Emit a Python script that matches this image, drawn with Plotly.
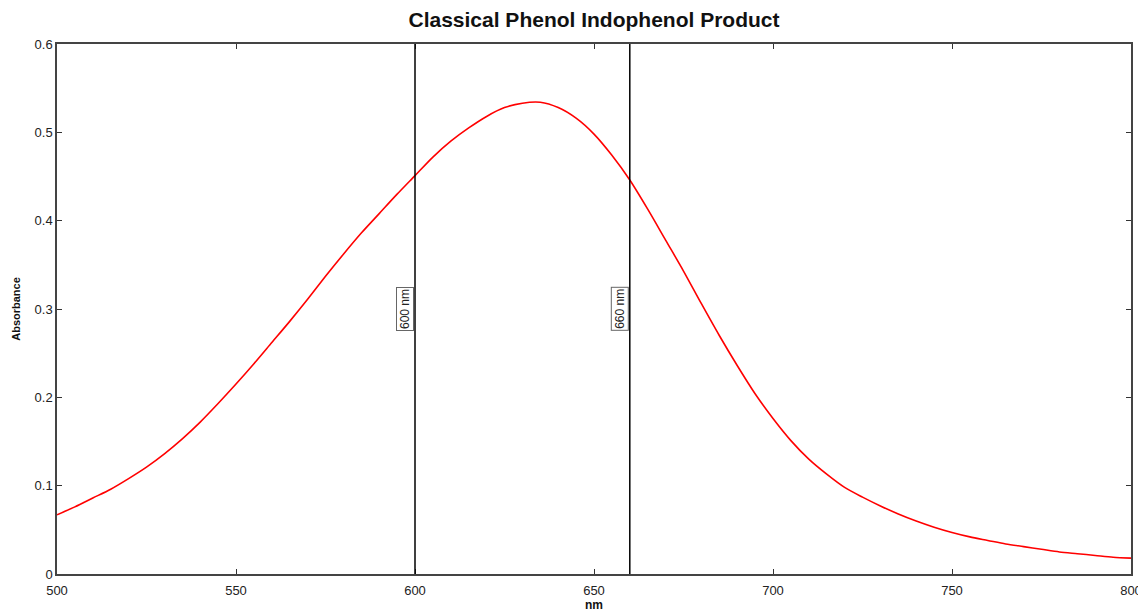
import plotly.graph_objects as go

wavelength_nm = list(range(500, 801, 5))
absorbance = [
    0.067, 0.076, 0.086, 0.096, 0.108, 0.121, 0.136, 0.153, 0.172, 0.193,
    0.215, 0.238, 0.262, 0.286, 0.311, 0.337, 0.362, 0.386, 0.408, 0.430,
    0.451, 0.472, 0.490, 0.505, 0.518, 0.528, 0.533, 0.534, 0.528, 0.516,
    0.498, 0.474, 0.446, 0.413, 0.378, 0.343, 0.306, 0.270, 0.236, 0.204,
    0.176, 0.151, 0.130, 0.113, 0.098, 0.087, 0.077, 0.068, 0.060, 0.053,
    0.047, 0.042, 0.038, 0.034, 0.031, 0.028, 0.025, 0.023, 0.021, 0.019,
    0.018,
]
marker_lines_nm = [600, 660]
marker_labels = ["600 nm", "660 nm"]
x_ticks = [500, 550, 600, 650, 700, 750, 800]
y_ticks = [0, 0.1, 0.2, 0.3, 0.4, 0.5, 0.6]

# page body has an 8px default margin; size the figure so it fits the 1146x615 window
W, H = 1138, 607

fig = go.Figure()
fig.add_trace(go.Scatter(
    x=wavelength_nm, y=absorbance, mode="lines",
    line=dict(color="#ff0000", width=1.6, shape="spline", smoothing=0.8),
    showlegend=False, hoverinfo="x+y",
))

for xv, lab in zip(marker_lines_nm, marker_labels):
    fig.add_shape(type="line", x0=xv, x1=xv, y0=0, y1=0.6, xref="x", yref="y",
                  line=dict(color="black", width=1.5))
    fig.add_annotation(x=xv, y=0.3, xref="x", yref="y", text=lab,
                       textangle=-90, showarrow=False, xanchor="right",
                       yanchor="middle", font=dict(family="Arial", size=12, color="#222"),
                       bordercolor="#666", borderwidth=1, borderpad=1,
                       bgcolor="white", xshift=-1)

axis_common = dict(
    showgrid=False, zeroline=False, showline=True, linecolor="#444", linewidth=1.5,
    mirror="allticks", ticks="inside", ticklen=5, tickwidth=1.2, tickcolor="#333",
    tickfont=dict(family="Arial", size=13, color="#222"), automargin=False,
)

fig.update_layout(
    width=W, height=H,
    margin=dict(l=49, r=15, t=36, b=41),
    paper_bgcolor="white", plot_bgcolor="white",
    title=dict(text="<b>Classical Phenol Indophenol Product</b>", x=586 / W, xanchor="center",
               y=1 - 12 / H, yanchor="middle", automargin=False,
               font=dict(family="Arial", size=21, color="#111")),
    xaxis=dict(range=[500, 800], tickvals=x_ticks, ticktext=[str(v) for v in x_ticks],
               ticklabelstandoff=4,
               title=dict(text="<b>nm</b>", font=dict(family="Arial", size=12, color="#111"), standoff=0),
               **axis_common),
    yaxis=dict(range=[0, 0.6], tickvals=y_ticks, ticktext=["0", "0.1", "0.2", "0.3", "0.4", "0.5", "0.6"],
               title=dict(text="<b>Absorbance</b>", font=dict(family="Arial", size=11, color="#111"), standoff=12),
               **axis_common),
)

fig.write_html("out.html")
